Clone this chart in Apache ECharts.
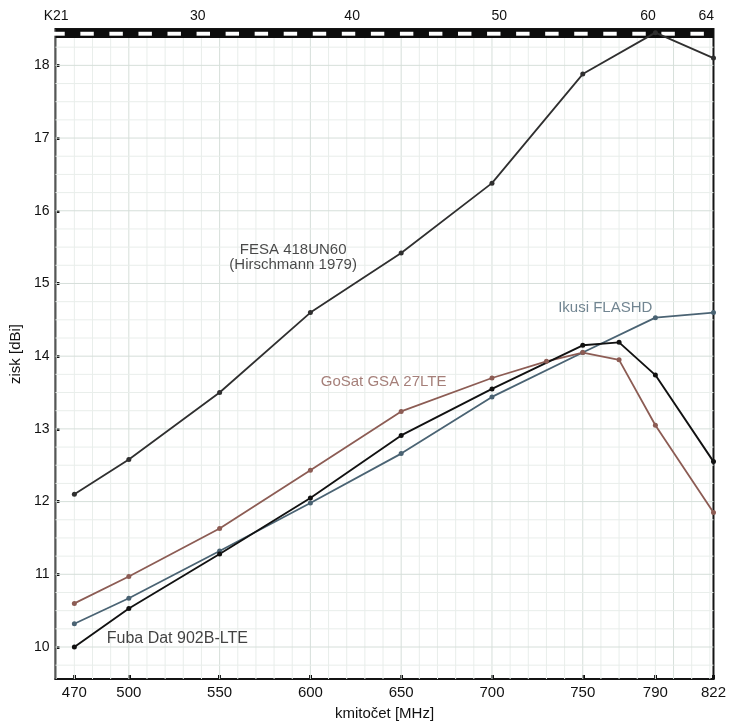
<!DOCTYPE html>
<html>
<head>
<meta charset="utf-8">
<script src="https://cdn.jsdelivr.net/npm/echarts@6/dist/echarts.min.js"></script>
<style>
html,body{margin:0;padding:0;background:#fff;}
#c{width:729px;height:726px;}
</style>
</head>
<body>
<div id="c"></div>
<script>
// ---- data ----
const xTicks = [470, 500, 550, 600, 650, 700, 750, 790, 822];
const yTicks = [10, 11, 12, 13, 14, 15, 16, 17, 18];
const channelLabels = ['K21', '30', '40', '50', '60', '64'];
const channelFreqs = [460, 538, 623, 704, 786, 818];
const channelDashCenters = [461, 477, 493, 509, 525, 541, 557, 573, 589, 605, 621, 637, 653, 669, 685, 701, 717, 733, 749, 765, 781, 797, 813];

const fesaFreq = [470, 500, 550, 600, 650, 700, 750, 790, 822];
const fesaGain = [12.1, 12.58, 13.5, 14.6, 15.42, 16.38, 17.88, 18.45, 18.1];

const ikusiFreq = [470, 500, 550, 600, 650, 700, 750, 790, 822];
const ikusiGain = [10.32, 10.67, 11.32, 11.98, 12.66, 13.44, 14.05, 14.53, 14.6];

const gosatFreq = [470, 500, 550, 600, 650, 700, 730, 750, 770, 790, 822];
const gosatGain = [10.6, 10.97, 11.63, 12.43, 13.24, 13.7, 13.93, 14.05, 13.95, 13.05, 11.85];

const fubaFreq = [470, 500, 550, 600, 650, 700, 750, 770, 790, 822];
const fubaGain = [10.0, 10.53, 11.28, 12.05, 12.91, 13.55, 14.15, 14.19, 13.74, 12.55];

const labelNames = ['FESA 418UN60\n(Hirschmann 1979)', 'Ikusi FLASHD', 'GoSat GSA 27LTE', 'Fuba Dat 902B-LTE'];
const labelFreq = [590.5, 762.4, 640.3, 526.7];
const labelGain = [15.36, 14.66, 13.65, 10.12];

// ---- layout / style constants ----
const X_MIN = 459.6, X_MAX = 822, Y_MIN = 9.56, Y_MAX = 18.5;
const BAR_LOW = 18.377, DASH_HI = 18.462, DASH_LO = 18.408, DASH_W = 7.4;
const FONT = 'Liberation Sans, Arial, sans-serif';
const labelColors = ['#1a1a1a', '#4e6676', '#8e5f57', '#111111'];

const pair = (xs, ys) => xs.map((x, i) => [x, ys[i]]);

// faint graph-paper grid (decoration)
const paperLines = [];
for (let f = 460; f <= 822; f += 10) paperLines.push([f, 0]);
for (let g = 9.75; g <= 18.3; g += 0.25) paperLines.push([g, 1]);

const chart = echarts.init(document.getElementById('c'), null, {renderer: 'canvas'});

function lineSeries(name, data, color, width) {
  return {
    name, type: 'line', data, xAxisIndex: 0, yAxisIndex: 0,
    symbol: 'circle', symbolSize: 5, showSymbol: true,
    lineStyle: {color, width},
    itemStyle: {color},
    z: 5, animation: false
  };
}

chart.setOption({
  animation: false,
  backgroundColor: '#ffffff',
  grid: {left: 55, right: 12, top: 29, bottom: 45, show: true, borderColor: '#141414', borderWidth: 2, backgroundColor: 'transparent'},
  xAxis: [{
    type: 'value', position: 'bottom', min: X_MIN, max: X_MAX,
    axisLine: {show: true, lineStyle: {color: '#141414', width: 2}},
    axisTick: {show: true, inside: true, length: 4, lineStyle: {color: '#111', width: 3}, customValues: xTicks},
    axisLabel: {customValues: xTicks, color: '#111', fontSize: 15, fontFamily: FONT, margin: 6},
    splitLine: {show: false},
    name: 'kmitočet [MHz]', nameLocation: 'middle', nameGap: 27,
    nameTextStyle: {color: '#111', fontSize: 15, fontFamily: FONT}
  }, {
    type: 'value', position: 'top', min: X_MIN, max: X_MAX,
    axisLine: {show: false}, axisTick: {show: false}, splitLine: {show: false},
    axisLabel: {
      customValues: channelFreqs, color: '#111', fontSize: 14, fontFamily: FONT, margin: 6,
      formatter: v => { const i = channelFreqs.indexOf(v); return i >= 0 ? channelLabels[i] : ''; }
    }
  }],
  yAxis: [{
    type: 'value', min: Y_MIN, max: Y_MAX,
    axisLine: {show: true, lineStyle: {color: '#141414', width: 2}},
    axisTick: {show: true, inside: true, length: 4, lineStyle: {color: '#111', width: 3}, customValues: yTicks},
    axisLabel: {customValues: yTicks, color: '#111', fontSize: 14, fontFamily: FONT, margin: 6},
    splitLine: {show: false},
    name: 'zisk [dBi]', nameLocation: 'middle', nameGap: 26, nameRotate: 90,
    nameTextStyle: {color: '#111', fontSize: 15, fontFamily: FONT}
  }],
  series: [
    {
      type: 'custom', name: 'paper', data: paperLines, z: 1, silent: true,
      encode: {x: 0, y: 1},
      renderItem: (params, api) => {
        const v = api.value(0), kind = api.value(1);
        let p1, p2;
        if (kind === 0) { p1 = api.coord([v, Y_MAX]); p2 = api.coord([v, Y_MIN]); }
        else { p1 = api.coord([X_MIN, v]); p2 = api.coord([X_MAX, v]); }
        const major = kind === 0 ? (Math.round(v) % 50 === 0) : (Math.abs(v - Math.round(v)) < 1e-6);
        return {type: 'line', shape: {x1: p1[0], y1: p1[1], x2: p2[0], y2: p2[1]},
          style: {stroke: major ? '#d6dfda' : '#e9eeeb', lineWidth: 1}};
      }
    },
    {
      type: 'custom', name: 'bar', data: [[X_MIN, X_MAX]], z: 3, silent: true,
      renderItem: (params, api) => {
        const a = api.coord([api.value(0), Y_MAX]);
        const b = api.coord([api.value(1), BAR_LOW]);
        return {type: 'rect', shape: {x: a[0], y: a[1], width: b[0] - a[0], height: b[1] - a[1]}, style: {fill: '#0d0d0d'}};
      }
    },
    {
      type: 'custom', name: 'dashes', data: channelDashCenters.map(c => [c, DASH_HI]), z: 4, silent: true,
      renderItem: (params, api) => {
        const c = api.value(0);
        const a = api.coord([c - DASH_W / 2, DASH_HI]);
        const b = api.coord([c + DASH_W / 2, DASH_LO]);
        return {type: 'rect', shape: {x: a[0], y: a[1], width: b[0] - a[0], height: b[1] - a[1]}, style: {fill: '#ffffff'}};
      }
    },
    lineSeries('FESA 418UN60', pair(fesaFreq, fesaGain), '#2f2f2f', 1.8),
    lineSeries('Ikusi FLASHD', pair(ikusiFreq, ikusiGain), '#4a6373', 1.8),
    lineSeries('GoSat GSA 27LTE', pair(gosatFreq, gosatGain), '#8c5c54', 1.8),
    lineSeries('Fuba Dat 902B-LTE', pair(fubaFreq, fubaGain), '#111111', 1.9),
    {
      type: 'scatter', name: 'labels', symbolSize: 0, z: 6, silent: true,
      data: labelNames.map((n, i) => ({
        value: [labelFreq[i], labelGain[i]], name: n,
        label: {color: labelColors[i], fontSize: i === 3 ? 16 : 15}
      })),
      label: {
        show: true, position: 'inside', formatter: p => p.name,
        fontFamily: FONT, fontSize: 15, lineHeight: 15
      }
    }
  ]
});
</script>
</body>
</html>
